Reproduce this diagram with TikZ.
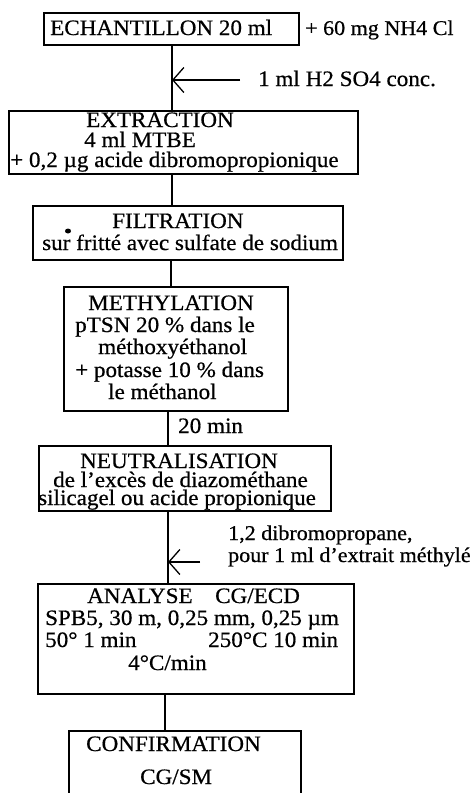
\documentclass[tikz,border=0pt]{standalone}
\usepackage{fontspec}
\setmainfont{Liberation Serif}[FakeStretch=1.05,FakeBold=0.6]
\usetikzlibrary{arrows.meta}
\begin{document}
\begin{tikzpicture}[x=1pt,y=-1pt,
  box/.style={draw, line width=1.8pt, rectangle, inner sep=0pt, anchor=north west},
  link/.style={line width=1.6pt},
  feed/.style={line width=1.3pt, -{Straight Barb[length=11pt,width=25pt,line width=1.3pt]}},
  txt/.style={anchor=base west, inner sep=0pt, font=\fontsize{22}{24}\selectfont},
  side/.style={txt, font=\fontsize{21}{23}\selectfont}]
\useasboundingbox (0,0) rectangle (475,793);
% boxes
\node[box, minimum width=255pt, minimum height=32pt] (ech) at (43,12) {};
\node[box, minimum width=349pt, minimum height=63pt] (ext) at (8,110) {};
\node[box, minimum width=310pt, minimum height=54pt] (fil) at (32,205) {};
\node[box, minimum width=224pt, minimum height=124pt] (met) at (63,286) {};
\node[box, minimum width=292pt, minimum height=65pt] (neu) at (38,445) {};
\node[box, minimum width=316pt, minimum height=110pt] (ana) at (37,583) {};
\node[box, minimum width=232pt, minimum height=90pt] (con) at (68,730) {};
% connector columns
\coordinate (c1) at (172,0);
\coordinate (c2) at (171,0);
\coordinate (c3) at (168,0);
\coordinate (c4) at (165,0);
\draw[link] (c1 |- ech.south) -- (c1 |- ext.north);
\draw[link] (c1 |- ext.south) -- (c1 |- fil.north);
\draw[link] (c2 |- fil.south) -- (c2 |- met.north);
\draw[link] (c3 |- met.south) -- (c3 |- neu.north);
\draw[link] (c3 |- neu.south) -- (c3 |- ana.north);
\draw[link] (c4 |- ana.south) -- (c4 |- con.north);
% side feeds
\coordinate (a1) at (240,80);
\coordinate (a2) at (200,562);
\draw[feed] (a1) -- (c1 |- a1);
\draw[feed] (a2) -- (c3 |- a2);
% ink blot of the original
\fill (68,231) ellipse [x radius=3pt, y radius=2.5pt];
% texts
\node[txt] (t01) at (50,35) {ECHANTILLON 20 ml};
\node[side] (t02) at (305,35) {+ 60 mg NH4 Cl};
\node[txt] (t03) at (258,86) {1 ml H2 SO4 conc.};
\node[txt] (t04) at (86,127) {EXTRACTION};
\node[txt] (t05) at (84,147) {4 ml MTBE};
\node[txt] (t06) at (10,167) {+ 0,2 µg acide dibromopropionique};
\node[txt] (t07) at (112,228) {FILTRATION};
\node[txt] (t08) at (42,250) {sur fritté avec sulfate de sodium};
\node[txt] (t09) at (88,310) {METHYLATION};
\node[txt] (t10) at (75,332) {pTSN 20 \% dans le};
\node[txt] (t11) at (98,354) {méthoxyéthanol};
\node[txt] (t12) at (75,377) {+ potasse 10 \% dans};
\node[txt] (t13) at (108,399) {le méthanol};
\node[txt] (t14) at (178,433) {20 min};
\node[txt] (t15) at (80,468) {NEUTRALISATION};
\node[txt] (t16) at (53,487) {de l'excès de diazométhane};
\node[txt] (t17) at (38,505) {silicagel ou acide propionique};
\node[side] (t18) at (228,540) {1,2 dibromopropane,};
\node[side] (t19) at (228,562) {pour 1 ml d'extrait méthylé};
\node[txt] (t20) at (87,603) {ANALYSE};
\node[txt] (t21) at (215,603) {CG/ECD};
\node[txt] (t22) at (45,625) {SPB5, 30 m, 0,25 mm, 0,25 µm};
\node[txt] (t23) at (45,647) {50° 1 min};
\node[txt] (t24) at (208,647) {250°C 10 min};
\node[txt] (t25) at (128,670) {4°C/min};
\node[txt] (t26) at (86,751) {CONFIRMATION};
\node[txt] (t27) at (140,784) {CG/SM};
\end{tikzpicture}
\end{document}
